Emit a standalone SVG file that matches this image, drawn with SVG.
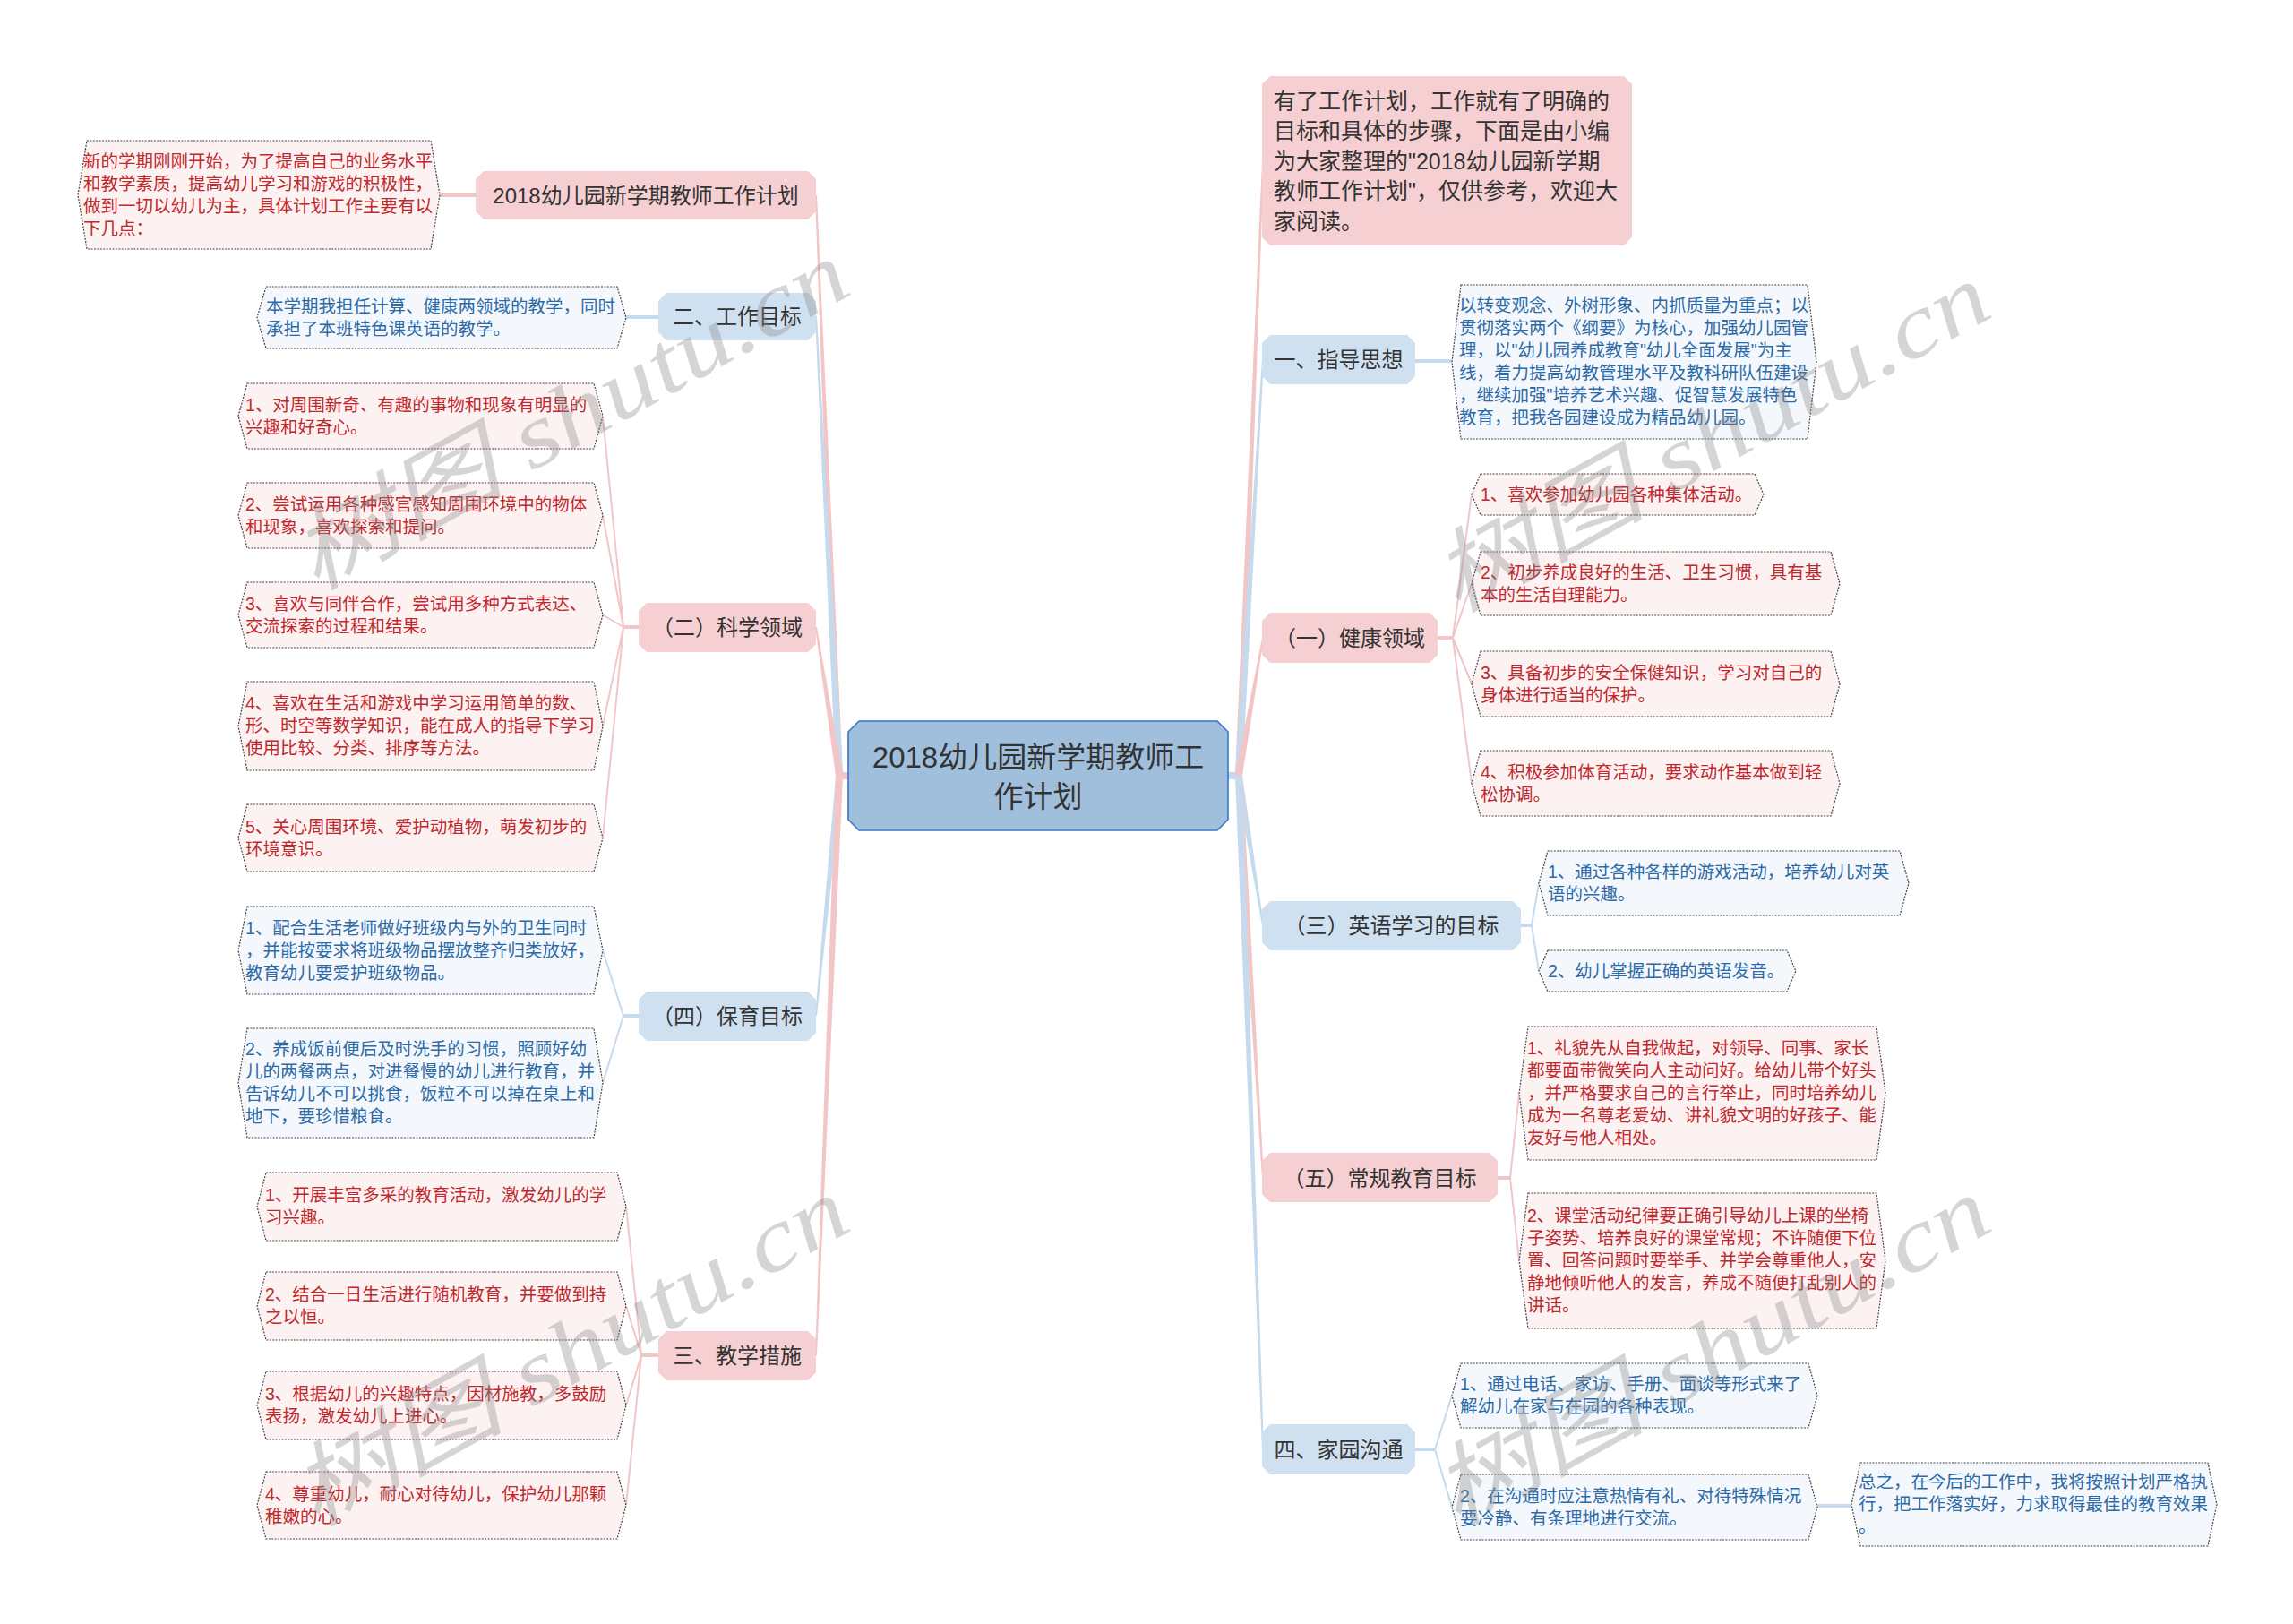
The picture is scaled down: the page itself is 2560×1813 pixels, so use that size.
<svg xmlns="http://www.w3.org/2000/svg" width="2560" height="1813" viewBox="0 0 2560 1813">
<style>
text{font-family:"Liberation Sans","Noto Sans CJK SC",sans-serif}
.bg{fill:#ffffff}
.n1p{fill:#f5cfd1}
.n1b{fill:#cfe0f0}
.root{fill:#a0bfdd;stroke:#3a76c6;stroke-width:1.6}
.lfp{fill:#fdf2f2;stroke:#444;stroke-width:1.2;stroke-dasharray:2 1.4}
.lfb{fill:#f4f8fc;stroke:#444;stroke-width:1.2;stroke-dasharray:2 1.4}
.t1{font-size:24px;fill:#333;text-anchor:middle}
.t0{font-size:33px;fill:#333;text-anchor:middle}
.ti{font-size:25px;fill:#333}
.tp{font-size:19.5px;fill:#c0282d}
.tb{font-size:19.5px;fill:#2c6aa8}
.cp{stroke:#f2c5c7;fill:none;stroke-width:2}
.cb{stroke:#c6daed;fill:none;stroke-width:2}
.sp{stroke:#f2c5c7;fill:none;stroke-width:4}
.sb{stroke:#c6daed;fill:none;stroke-width:4}
.wp{fill:#f2c5c7}
.wb{fill:#c6daed}
.wm{font-family:"Liberation Serif","Noto Sans CJK SC",serif;font-style:italic;font-size:100px;fill:#8a8a8a;opacity:0.35}
</style>
<rect class="bg" x="0" y="0" width="2560" height="1813"/>
<g id="connectors">
  <!-- root stubs -->
  <path class="wp" d="M947,862 L935,862 L935,870 L947,870 Z"/>
  <path class="wb" d="M1371,862 L1384,862 L1384,870 L1371,870 Z"/>
  <!-- left tapered -->
  <path class="wp" d="M933,866 L910,218 L912,218 L941,866 Z"/>
  <path class="wb" d="M933,866 L910,353 L912,353 L941,866 Z"/>
  <path class="wp" d="M933,866 L910,700 L912,700 L941,866 Z"/>
  <path class="wb" d="M933,866 L910,1134 L912,1134 L941,866 Z"/>
  <path class="wp" d="M933,866 L910,1513 L912,1513 L941,866 Z"/>
  <!-- right tapered -->
  <path class="wp" d="M1379,866 L1409,180 L1411,180 L1387,866 Z"/>
  <path class="wb" d="M1379,866 L1409,401 L1411,401 L1387,866 Z"/>
  <path class="wp" d="M1379,866 L1409,712 L1411,712 L1387,866 Z"/>
  <path class="wb" d="M1379,866 L1409,1033 L1411,1033 L1387,866 Z"/>
  <path class="wp" d="M1379,866 L1409,1315 L1411,1315 L1387,866 Z"/>
  <path class="wb" d="M1379,866 L1409,1618 L1411,1618 L1387,866 Z"/>
  <!-- left level 2 -->
  <path class="sp" d="M531,218 L491,218"/>
  <path class="sb" d="M735,354 L699,354"/>
  <path class="sp" d="M713,700 L696,700"/>
  <path class="cp" d="M696,700 L673,464.5 M696,700 L673,575.5 M696,700 L673,686.5 M696,700 L673,810.5 M696,700 L673,935.5"/>
  <path class="sb" d="M713,1134 L696,1134"/>
  <path class="cb" d="M696,1134 L673,1061 M696,1134 L673,1209"/>
  <path class="sp" d="M735,1513 L716,1513"/>
  <path class="cp" d="M716,1513 L699,1347 M716,1513 L699,1458 M716,1513 L699,1569 M716,1513 L699,1680.5"/>
  <!-- right level 2 -->
  <path class="sb" d="M1580,403 L1621,403"/>
  <path class="sp" d="M1605,712 L1622,712"/>
  <path class="cp" d="M1622,712 L1643,552 M1622,712 L1643,651.5 M1622,712 L1643,763.5 M1622,712 L1643,874.5"/>
  <path class="sb" d="M1698,1033 L1710,1033"/>
  <path class="cb" d="M1710,1033 L1718,986 M1710,1033 L1718,1084"/>
  <path class="sp" d="M1672,1315 L1686,1315"/>
  <path class="cp" d="M1686,1315 L1696,1220.5 M1686,1315 L1696,1407.5"/>
  <path class="sb" d="M1580,1618 L1602,1618"/>
  <path class="cb" d="M1602,1618 L1621,1558 M1602,1618 L1621,1682.5"/>
  <path class="sb" d="M2029,1681 L2067,1681"/>
</g>

<g id="root">
  <polygon class="root" points="959,805 1359,805 1371,817 1371,915 1359,927 959,927 947,915 947,817"/>
  <text class="t0" x="1159" y="857">2018幼儿园新学期教师工</text>
  <text class="t0" x="1159" y="901">作计划</text>
</g>

<g id="nA">
  <polygon class="n1p" points="540,191 902,191 911,200 911,236 902,245 540,245 531,236 531,200"/>
  <text class="t1" x="721" y="227">2018幼儿园新学期教师工作计划</text>
</g>
<g id="nB">
  <polygon class="n1b" points="744,327 902,327 911,336 911,371 902,380 744,380 735,371 735,336"/>
  <text class="t1" x="823" y="362">二、工作目标</text>
</g>
<g id="nC">
  <polygon class="n1p" points="722,673 902,673 911,682 911,719 902,728 722,728 713,719 713,682"/>
  <text class="t1" x="812" y="709">（二）科学领域</text>
</g>
<g id="nD">
  <polygon class="n1b" points="722,1107 902,1107 911,1116 911,1153 902,1162 722,1162 713,1153 713,1116"/>
  <text class="t1" x="812" y="1143">（四）保育目标</text>
</g>
<g id="nE">
  <polygon class="n1p" points="744,1486 902,1486 911,1495 911,1532 902,1541 744,1541 735,1532 735,1495"/>
  <text class="t1" x="823" y="1522">三、教学措施</text>
</g>
<g id="nF">
  <polygon class="n1p" points="1418,85 1813,85 1822,94 1822,265 1813,274 1418,274 1409,265 1409,94"/>
  <text class="ti" x="1422" y="122">有了工作计划，工作就有了明确的</text>
  <text class="ti" x="1422" y="155">目标和具体的步骤，下面是由小编</text>
  <text class="ti" x="1422" y="189">为大家整理的"2018幼儿园新学期</text>
  <text class="ti" x="1422" y="222">教师工作计划"，仅供参考，欢迎大</text>
  <text class="ti" x="1422" y="256">家阅读。</text>
</g>
<g id="nG">
  <polygon class="n1b" points="1418,374 1571,374 1580,383 1580,420 1571,429 1418,429 1409,420 1409,383"/>
  <text class="t1" x="1494.5" y="410">一、指导思想</text>
</g>
<g id="nH">
  <polygon class="n1p" points="1418,684 1596,684 1605,693 1605,731 1596,740 1418,740 1409,731 1409,693"/>
  <text class="t1" x="1507" y="721">（一）健康领域</text>
</g>
<g id="nI">
  <polygon class="n1b" points="1418,1006 1689,1006 1698,1015 1698,1052 1689,1061 1418,1061 1409,1052 1409,1015"/>
  <text class="t1" x="1553.5" y="1042">（三）英语学习的目标</text>
</g>
<g id="nJ">
  <polygon class="n1p" points="1418,1287 1663,1287 1672,1296 1672,1333 1663,1342 1418,1342 1409,1333 1409,1296"/>
  <text class="t1" x="1540.5" y="1324">（五）常规教育目标</text>
</g>
<g id="nK">
  <polygon class="n1b" points="1418,1590 1571,1590 1580,1599 1580,1637 1571,1646 1418,1646 1409,1637 1409,1599"/>
  <text class="t1" x="1494.5" y="1627">四、家园沟通</text>
</g>

<!-- left leaves -->
<g id="lA1">
  <polygon class="lfp" points="97,157 481,157 491,217.5 481,278 97,278 87,217.5"/>
  <text class="tp" x="93" y="187">新的学期刚刚开始，为了提高自己的业务水平</text>
  <text class="tp" x="93" y="212">和教学素质，提高幼儿学习和游戏的积极性，</text>
  <text class="tp" x="93" y="237">做到一切以幼儿为主，具体计划工作主要有以</text>
  <text class="tp" x="93" y="262">下几点：</text>
</g>
<g id="lB1">
  <polygon class="lfb" points="297,320 689,320 699,354.5 689,389 297,389 287,354.5"/>
  <text class="tb" x="297" y="349">本学期我担任计算、健康两领域的教学，同时</text>
  <text class="tb" x="297" y="374">承担了本班特色课英语的教学。</text>
</g>
<g id="lC1">
  <polygon class="lfp" points="276,428 663,428 673,464.5 663,501 276,501 266,464.5"/>
  <text class="tp" x="274" y="459">1、对周围新奇、有趣的事物和现象有明显的</text>
  <text class="tp" x="274" y="484">兴趣和好奇心。</text>
</g>
<g id="lC2">
  <polygon class="lfp" points="276,539 663,539 673,575.5 663,612 276,612 266,575.5"/>
  <text class="tp" x="274" y="570">2、尝试运用各种感官感知周围环境中的物体</text>
  <text class="tp" x="274" y="595">和现象，喜欢探索和提问。</text>
</g>
<g id="lC3">
  <polygon class="lfp" points="276,650 663,650 673,686.5 663,723 276,723 266,686.5"/>
  <text class="tp" x="274" y="681">3、喜欢与同伴合作，尝试用多种方式表达、</text>
  <text class="tp" x="274" y="706">交流探索的过程和结果。</text>
</g>
<g id="lC4">
  <polygon class="lfp" points="276,761 663,761 673,810.5 663,860 276,860 266,810.5"/>
  <text class="tp" x="274" y="792">4、喜欢在生活和游戏中学习运用简单的数、</text>
  <text class="tp" x="274" y="817">形、时空等数学知识，能在成人的指导下学习</text>
  <text class="tp" x="274" y="842">使用比较、分类、排序等方法。</text>
</g>
<g id="lC5">
  <polygon class="lfp" points="276,898 663,898 673,935.5 663,973 276,973 266,935.5"/>
  <text class="tp" x="274" y="930">5、关心周围环境、爱护动植物，萌发初步的</text>
  <text class="tp" x="274" y="955">环境意识。</text>
</g>
<g id="lD1">
  <polygon class="lfb" points="276,1012 663,1012 673,1061 663,1110 276,1110 266,1061"/>
  <text class="tb" x="274" y="1043">1、配合生活老师做好班级内与外的卫生同时</text>
  <text class="tb" x="274" y="1068">，并能按要求将班级物品摆放整齐归类放好，</text>
  <text class="tb" x="274" y="1093">教育幼儿要爱护班级物品。</text>
</g>
<g id="lD2">
  <polygon class="lfb" points="276,1148 663,1148 673,1209 663,1270 276,1270 266,1209"/>
  <text class="tb" x="274" y="1178">2、养成饭前便后及时洗手的习惯，照顾好幼</text>
  <text class="tb" x="274" y="1203">儿的两餐两点，对进餐慢的幼儿进行教育，并</text>
  <text class="tb" x="274" y="1228">告诉幼儿不可以挑食，饭粒不可以掉在桌上和</text>
  <text class="tb" x="274" y="1253">地下，要珍惜粮食。</text>
</g>
<g id="lE1">
  <polygon class="lfp" points="297,1309 689,1309 699,1347 689,1385 297,1385 287,1347"/>
  <text class="tp" x="296" y="1341">1、开展丰富多采的教育活动，激发幼儿的学</text>
  <text class="tp" x="296" y="1366">习兴趣。</text>
</g>
<g id="lE2">
  <polygon class="lfp" points="297,1420 689,1420 699,1458 689,1496 297,1496 287,1458"/>
  <text class="tp" x="296" y="1452">2、结合一日生活进行随机教育，并要做到持</text>
  <text class="tp" x="296" y="1477">之以恒。</text>
</g>
<g id="lE3">
  <polygon class="lfp" points="297,1531 689,1531 699,1569 689,1607 297,1607 287,1569"/>
  <text class="tp" x="296" y="1563">3、根据幼儿的兴趣特点，因材施教，多鼓励</text>
  <text class="tp" x="296" y="1588">表扬，激发幼儿上进心。</text>
</g>
<g id="lE4">
  <polygon class="lfp" points="297,1643 689,1643 699,1680.5 689,1718 297,1718 287,1680.5"/>
  <text class="tp" x="296" y="1675">4、尊重幼儿，耐心对待幼儿，保护幼儿那颗</text>
  <text class="tp" x="296" y="1700">稚嫩的心。</text>
</g>

<!-- right leaves -->
<g id="lG1">
  <polygon class="lfb" points="1631,318 2018,318 2028,404 2018,490 1631,490 1621,404"/>
  <text class="tb" x="1629" y="348">以转变观念、外树形象、内抓质量为重点；以</text>
  <text class="tb" x="1629" y="373">贯彻落实两个《纲要》为核心，加强幼儿园管</text>
  <text class="tb" x="1629" y="398">理，以"幼儿园养成教育"幼儿全面发展"为主</text>
  <text class="tb" x="1629" y="423">线，着力提高幼教管理水平及教科研队伍建设</text>
  <text class="tb" x="1629" y="448">，继续加强"培养艺术兴趣、促智慧发展特色</text>
  <text class="tb" x="1629" y="473">教育，把我各园建设成为精品幼儿园。</text>
</g>
<g id="lH1">
  <polygon class="lfp" points="1653,529 1959,529 1969,552 1959,575 1653,575 1643,552"/>
  <text class="tp" x="1653" y="559">1、喜欢参加幼儿园各种集体活动。</text>
</g>
<g id="lH2">
  <polygon class="lfp" points="1653,616 2044,616 2054,651.5 2044,687 1653,687 1643,651.5"/>
  <text class="tp" x="1653" y="646">2、初步养成良好的生活、卫生习惯，具有基</text>
  <text class="tp" x="1653" y="671">本的生活自理能力。</text>
</g>
<g id="lH3">
  <polygon class="lfp" points="1653,727 2044,727 2054,763.5 2044,800 1653,800 1643,763.5"/>
  <text class="tp" x="1653" y="758">3、具备初步的安全保健知识，学习对自己的</text>
  <text class="tp" x="1653" y="783">身体进行适当的保护。</text>
</g>
<g id="lH4">
  <polygon class="lfp" points="1653,838 2044,838 2054,874.5 2044,911 1653,911 1643,874.5"/>
  <text class="tp" x="1653" y="869">4、积极参加体育活动，要求动作基本做到轻</text>
  <text class="tp" x="1653" y="894">松协调。</text>
</g>
<g id="lI1">
  <polygon class="lfb" points="1728,950 2121,950 2131,986 2121,1022 1728,1022 1718,986"/>
  <text class="tb" x="1728" y="980">1、通过各种各样的游戏活动，培养幼儿对英</text>
  <text class="tb" x="1728" y="1005">语的兴趣。</text>
</g>
<g id="lI2">
  <polygon class="lfb" points="1728,1061 1995,1061 2005,1084 1995,1107 1728,1107 1718,1084"/>
  <text class="tb" x="1728" y="1091">2、幼儿掌握正确的英语发音。</text>
</g>
<g id="lJ1">
  <polygon class="lfp" points="1706,1146 2095,1146 2105,1220.5 2095,1295 1706,1295 1696,1220.5"/>
  <text class="tp" x="1705" y="1177">1、礼貌先从自我做起，对领导、同事、家长</text>
  <text class="tp" x="1705" y="1202">都要面带微笑向人主动问好。给幼儿带个好头</text>
  <text class="tp" x="1705" y="1227">，并严格要求自己的言行举止，同时培养幼儿</text>
  <text class="tp" x="1705" y="1252">成为一名尊老爱幼、讲礼貌文明的好孩子、能</text>
  <text class="tp" x="1705" y="1277">友好与他人相处。</text>
</g>
<g id="lJ2">
  <polygon class="lfp" points="1706,1332 2095,1332 2105,1407.5 2095,1483 1706,1483 1696,1407.5"/>
  <text class="tp" x="1705" y="1364">2、课堂活动纪律要正确引导幼儿上课的坐椅</text>
  <text class="tp" x="1705" y="1389">子姿势、培养良好的课堂常规；不许随便下位</text>
  <text class="tp" x="1705" y="1414">置、回答问题时要举手、并学会尊重他人，安</text>
  <text class="tp" x="1705" y="1439">静地倾听他人的发言，养成不随便打乱别人的</text>
  <text class="tp" x="1705" y="1464">讲话。</text>
</g>
<g id="lK1">
  <polygon class="lfb" points="1631,1522 2019,1522 2029,1558 2019,1594 1631,1594 1621,1558"/>
  <text class="tb" x="1630" y="1552">1、通过电话、家访、手册、面谈等形式来了</text>
  <text class="tb" x="1630" y="1577">解幼儿在家与在园的各种表现。</text>
</g>
<g id="lK2">
  <polygon class="lfb" points="1631,1646 2019,1646 2029,1682.5 2019,1719 1631,1719 1621,1682.5"/>
  <text class="tb" x="1630" y="1677">2、在沟通时应注意热情有礼、对待特殊情况</text>
  <text class="tb" x="1630" y="1702">要冷静、有条理地进行交流。</text>
</g>
<g id="lK2a">
  <polygon class="lfb" points="2077,1633 2465,1633 2475,1679.5 2465,1726 2077,1726 2067,1679.5"/>
  <text class="tb" x="2075" y="1661">总之，在今后的工作中，我将按照计划严格执</text>
  <text class="tb" x="2075" y="1686">行，把工作落实好，力求取得最佳的教育效果</text>
  <text class="tb" x="2075" y="1711">。</text>
</g>

<g id="watermarks">
  <text class="wm" x="351" y="661" transform="rotate(-29 351 661)" textLength="690" lengthAdjust="spacingAndGlyphs">树图 shutu.cn</text>
  <text class="wm" x="351" y="1706" transform="rotate(-29 351 1706)" textLength="690" lengthAdjust="spacingAndGlyphs">树图 shutu.cn</text>
  <text class="wm" x="1625" y="686" transform="rotate(-29 1625 686)" textLength="690" lengthAdjust="spacingAndGlyphs">树图 shutu.cn</text>
  <text class="wm" x="1625" y="1706" transform="rotate(-29 1625 1706)" textLength="690" lengthAdjust="spacingAndGlyphs">树图 shutu.cn</text>
</g>
</svg>
